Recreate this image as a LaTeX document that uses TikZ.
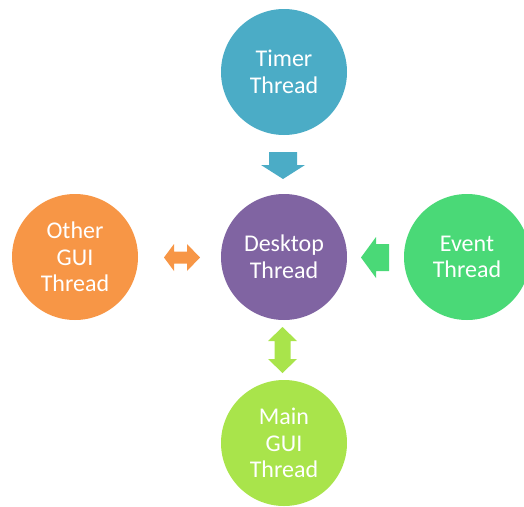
\documentclass[tikz,border=0pt]{standalone}
\usepackage{fontspec}
\setmainfont{Carlito}
\definecolor{cteal}{HTML}{4BACC6}
\definecolor{cpurple}{HTML}{8064A2}
\definecolor{corange}{HTML}{F79646}
\definecolor{cgreen}{HTML}{4AD977}
\definecolor{clime}{HTML}{A9E44B}
\begin{document}
\begin{tikzpicture}[x=1pt,y=-1pt,
  bubble/.style={circle,minimum size=126pt,inner sep=0pt,text=white,align=center,
    font=\fontsize{24}{26.5}\selectfont}]
\useasboundingbox (0,0) rectangle (524,506);
\clip (0,0) rectangle (524,506);
\node[bubble,fill=cteal]   (timer)   at (284,72)  {Timer\\Thread};
\node[bubble,fill=cpurple] (desktop) at (284,257) {Desktop\\Thread};
\node[bubble,fill=corange] (other)   at (75,257)  {Other\\GUI\\Thread};
\node[bubble,fill=cgreen]  (event)   at (467,257) {Event\\Thread};
\node[bubble,fill=clime]   (main)    at (284,443) {Main\\GUI\\Thread};
% timer -> desktop
\fill[cteal] (269,152) -- (297,152) -- (297,165) -- (305,165) -- (283,179) -- (261,165) -- (269,165) -- cycle;
% other <-> desktop
\fill[corange] (164,257.5) -- (174,244) -- (174,251.5) -- (187,251.5) -- (187,244) -- (200,257.5)
  -- (187,271) -- (187,263.5) -- (174,263.5) -- (174,271) -- cycle;
% event -> desktop
\fill[cgreen] (361,257.5) -- (376,237) -- (376,244) -- (389,244) -- (389,271) -- (376,271) -- (376,278) -- cycle;
% main <-> desktop
\fill[clime] (282.5,327) -- (297,341) -- (290.5,341) -- (290.5,359) -- (297,359) -- (282.5,373)
  -- (268,359) -- (274.5,359) -- (274.5,341) -- (268,341) -- cycle;
\end{tikzpicture}
\end{document}
